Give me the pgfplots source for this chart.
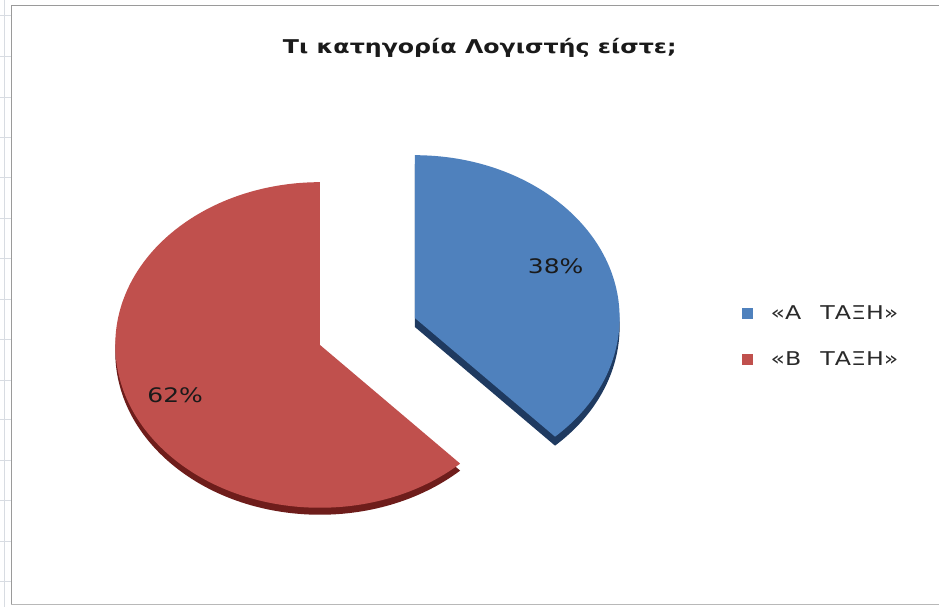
\documentclass[border=0pt]{standalone}
\usepackage{pgfplots}
\pgfplotsset{compat=1.18}
\usepackage{pgfplotstable}
\usepackage{fontspec}
\setmainfont{DejaVu Sans}
\newfontfamily\wide[FakeStretch=1.25]{DejaVu Sans}
\pgfplotstableread{
label value
A 38
B 62
}\piedata
\definecolor{sliceA}{HTML}{4F81BD}
\definecolor{sliceB}{HTML}{C0504D}
\definecolor{sideA}{HTML}{1F3A60}
\definecolor{sideB}{HTML}{6E1D1B}
\definecolor{txt}{HTML}{1A1A1A}
\definecolor{legtxt}{HTML}{2A2A2A}
\definecolor{frame}{HTML}{9A9A9A}
\definecolor{faint}{HTML}{D8DCE2}
\begin{document}
\begin{tikzpicture}
\pgfplotstablegetelem{0}{value}\of\piedata \let\va\pgfplotsretval
\pgfplotstablegetelem{1}{value}\of\piedata \let\vb\pgfplotsretval
\pgfmathsetmacro\aend{90-3.6*\va}
\pgfmathsetmacro\bend{\aend-3.6*\vb}
\begin{axis}[width=940pt,height=607pt,scale only axis,
  xmin=0,xmax=940,ymin=0,ymax=607,hide axis,clip=false]
% background strip and frame
\fill[white] (axis cs:0,0) rectangle (axis cs:940,607);
\draw[faint,line width=0.8pt] (axis cs:4,0) -- (axis cs:4,607);
\pgfplotsinvokeforeach{592,551,510,470,430,389,349,308,268,227,187,146,106,65,25}{
  \draw[faint,line width=0.8pt] (axis cs:0,#1) -- (axis cs:11,#1);}
\draw[frame,line width=1.6pt] (axis cs:11,2) -- (axis cs:11,602) -- (axis cs:940,602);
\draw[frame!70,line width=1.2pt] (axis cs:11,2) -- (axis cs:940,2);
% slice B (red) side and top
\fill[sideB] (axis cs:320,255) -- ++(\aend:205pt and 163pt)
   arc[start angle=\aend, end angle=\bend, x radius=205pt, y radius=163pt] -- cycle;
\fill[sliceB] (axis cs:320,262) -- ++(\aend:205pt and 163pt)
   arc[start angle=\aend, end angle=\bend, x radius=205pt, y radius=163pt] -- cycle;
% slice A (blue) side and top
\fill[sideA] (axis cs:415,280) -- ++(90:205pt and 163pt)
   arc[start angle=90, end angle=\aend, x radius=205pt, y radius=163pt] -- cycle;
\fill[sliceA] (axis cs:415,289) -- ++(90:205pt and 163pt)
   arc[start angle=90, end angle=\aend, x radius=205pt, y radius=163pt] -- cycle;
% data labels
\node[txt,font=\wide\fontsize{20}{24}\selectfont] at (axis cs:556,341) {\va\%};
\node[txt,font=\wide\fontsize{20}{24}\selectfont] at (axis cs:175,212) {\vb\%};
% title
\node[txt,font=\wide\fontsize{19}{23}\selectfont\bfseries] at (axis cs:480,559) {Τι κατηγορία Λογιστής είστε;};
% legend
\fill[sliceA] (axis cs:743,288) rectangle (axis cs:754,299);
\node[legtxt,anchor=west,inner sep=0pt,font=\wide\fontsize{19}{22}\selectfont] at (axis cs:771,294) {«Α\hspace{1em}ΤΑΞΗ»};
\fill[sliceB] (axis cs:743,242) rectangle (axis cs:754,253);
\node[legtxt,anchor=west,inner sep=0pt,font=\wide\fontsize{19}{22}\selectfont] at (axis cs:771,248) {«Β\hspace{1em}ΤΑΞΗ»};
\end{axis}
\end{tikzpicture}
\end{document}
